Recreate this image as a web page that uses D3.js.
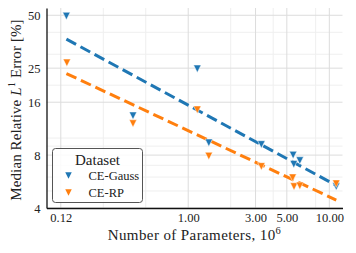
<!DOCTYPE html>
<html>
<head>
<meta charset="utf-8">
<script src="https://cdn.jsdelivr.net/npm/d3@7"></script>
<style>
  body { margin: 0; background: #fff; }
  text { font-family: "Liberation Serif", serif; fill: #222; }
</style>
</head>
<body>
<svg width="356" height="253"></svg>
<script>
// values
let gaussParams = [0.137, 0.406, 1.16, 1.40, 3.30, 5.54, 5.60, 6.18, 11.2],
    gaussError  = [49.5, 13.4, 24.8, 9.4, 9.2, 8.0, 7.1, 7.45, 5.3];
let rpParams = [0.138, 0.406, 1.16, 1.40, 3.30, 5.50, 5.62, 6.18, 11.2],
    rpError  = [26.8, 12.1, 14.5, 7.9, 6.9, 5.95, 5.3, 5.35, 5.5];
let fitParams = [0.137, 11.2],
    gaussFit = [36.6, 5.38],
    rpFit = [23.3, 4.44];

let xTicks = [0.125, 1, 3, 5, 10],
    xTickLabels = ["0.12", "1.00", "3.00", "5.00", "10.00"],
    xMinor = [0.25, 0.5, 2, 4, 8];
let yTicks = [4, 8, 16, 25, 50],
    yMinor = [5, 6, 7, 9, 10, 20, 30, 40];

let series = [
  {name: "CE-Gauss", color: "#1f77b4", xs: gaussParams, ys: gaussError, fit: gaussFit},
  {name: "CE-RP", color: "#ff7f0e", xs: rpParams, ys: rpError, fit: rpFit}
];

let font = "Liberation Serif";

let svg = d3.select("svg"),
    margin = {top: 8, right: 13.5, bottom: 45, left: 46.5},
    width = +svg.attr("width") - margin.left - margin.right,
    height = +svg.attr("height") - margin.top - margin.bottom,
    g = svg.append("g").attr("transform", "translate(" + margin.left + "," + margin.top + ")");

let x = d3.scaleLog().domain([0.099, 12.4]).range([0, width]);
let y = d3.scaleLog().base(2).domain([4, 55]).range([height, 0]);

// grid
g.selectAll(".vminor").data(xMinor).enter().append("line")
    .attr("x1", d => x(d)).attr("x2", d => x(d))
    .attr("y1", 0).attr("y2", height)
    .attr("stroke", "#efefef").attr("stroke-width", 1);
g.selectAll(".hminor").data(yMinor).enter().append("line")
    .attr("y1", d => y(d)).attr("y2", d => y(d))
    .attr("x1", 0).attr("x2", width)
    .attr("stroke", "#efefef").attr("stroke-width", 1);
g.selectAll(".vmajor").data(xTicks).enter().append("line")
    .attr("x1", d => x(d)).attr("x2", d => x(d))
    .attr("y1", 0).attr("y2", height)
    .attr("stroke", "#dcdcdc").attr("stroke-width", 1);
g.selectAll(".hmajor").data(yTicks).enter().append("line")
    .attr("y1", d => y(d)).attr("y2", d => y(d))
    .attr("x1", 0).attr("x2", width)
    .attr("stroke", "#dcdcdc").attr("stroke-width", 1);

// axes
let xAxis = d3.axisBottom(x).tickValues(xTicks)
    .tickFormat((d, i) => xTickLabels[i]).tickSize(0).tickPadding(5);
let yAxis = d3.axisLeft(y).tickValues(yTicks)
    .tickFormat(d3.format("d")).tickSize(0).tickPadding(6);

let xGroup = g.append("g").attr("transform", "translate(0," + height + ")").call(xAxis);
let yGroup = g.append("g").call(yAxis);
[xGroup, yGroup].forEach(a => {
  a.attr("font-family", font);
  a.select(".domain").attr("stroke", "#111").attr("stroke-width", 1.3);
  a.selectAll("text").attr("font-family", font).attr("font-size", 12.5).attr("fill", "#222");
});

// fit lines
let line = d3.line().x(d => x(d[0])).y(d => y(d[1]));
series.forEach(s => {
  g.append("path")
      .datum(fitParams.map((p, i) => [p, s.fit[i]]))
      .attr("d", line)
      .attr("fill", "none")
      .attr("stroke", s.color)
      .attr("stroke-width", 3)
      .attr("stroke-dasharray", "11,5");
});

// triangle down markers
function triDown(w) {
  let h = w / 2;
  return "M" + (-h) + "," + (-h) + "L" + h + "," + (-h) + "L0," + h + "Z";
}
series.forEach(s => {
  g.selectAll(null).data(s.xs.map((p, i) => [p, s.ys[i]])).enter().append("path")
      .attr("d", triDown(7.5))
      .attr("transform", d => "translate(" + x(d[0]) + "," + y(d[1]) + ")")
      .attr("fill", s.color)
      .attr("stroke", "#fff")
      .attr("stroke-width", 0.5);
});

// axis labels
let xl = svg.append("text")
    .attr("x", margin.left + width / 2)
    .attr("y", 240)
    .attr("text-anchor", "middle")
    .attr("font-family", font)
    .attr("font-size", 15)
    .attr("letter-spacing", 0.4);
xl.append("tspan").text("Number of Parameters, 10");
xl.append("tspan").attr("dy", -6).attr("font-size", 10.5).text("6");

let yl = svg.append("text")
    .attr("transform", "translate(21," + (margin.top + height / 2 + 2) + ") rotate(-90)")
    .attr("text-anchor", "middle")
    .attr("font-family", font)
    .attr("font-size", 15)
    .attr("letter-spacing", 0.1);
yl.append("tspan").text("Median Relative ");
yl.append("tspan").attr("font-style", "italic").text("L");
yl.append("tspan").attr("dy", -6).attr("font-size", 10.5).text("1");
yl.append("tspan").attr("dy", 6).text(" Error [%]");

// legend
let lg = svg.append("g").attr("transform", "translate(52.5,148.5)");
lg.append("rect")
    .attr("width", 90).attr("height", 54)
    .attr("rx", 3)
    .attr("fill", "#fff").attr("fill-opacity", 0.85)
    .attr("stroke", "#555").attr("stroke-width", 1);
lg.append("text").attr("x", 45).attr("y", 16).attr("text-anchor", "middle")
    .attr("font-family", font).attr("font-size", 15).text("Dataset");
series.forEach((s, i) => {
  let row = lg.append("g").attr("transform", "translate(0," + (27 + i * 17) + ")");
  row.append("path").attr("d", triDown(6.5))
      .attr("transform", "translate(16,0)")
      .attr("fill", s.color);
  row.append("text").attr("x", 36).attr("y", 4).attr("font-family", font)
      .attr("font-size", 12.5).text(s.name);
});
</script>
</body>
</html>
